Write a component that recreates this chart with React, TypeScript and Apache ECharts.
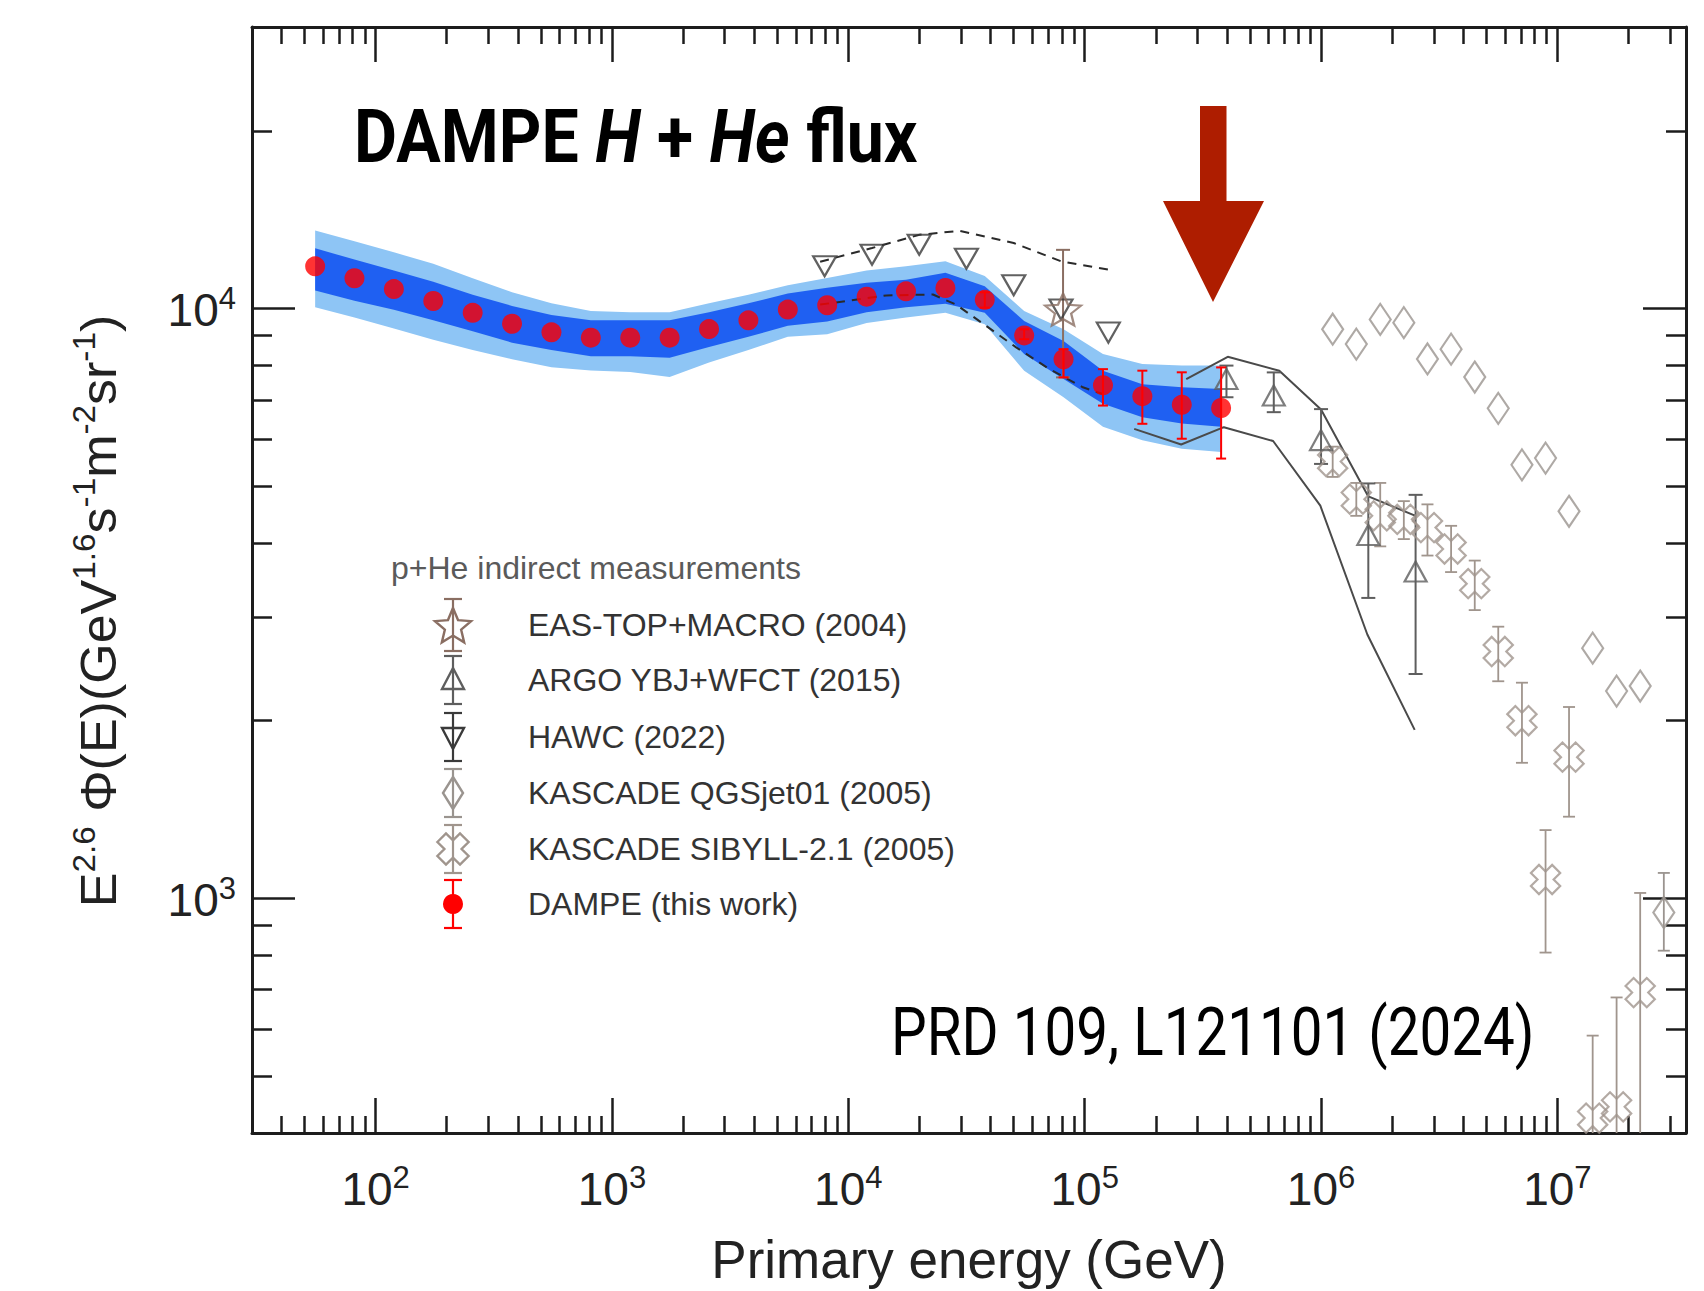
import React, { useEffect, useRef } from 'react';
import * as echarts from 'echarts';

// ---------- axes ----------
const X_MIN = 30;
const X_MAX = 3.5e7;
const Y_MIN = 400;
const Y_MAX = 30000;

const X_MAJOR_TICKS = [1e2, 1e3, 1e4, 1e5, 1e6, 1e7];
const X_MINOR_TICKS = [
  40, 50, 60, 70, 80, 90,
  200, 300, 400, 500, 600, 700, 800, 900,
  2000, 3000, 4000, 5000, 6000, 7000, 8000, 9000,
  20000, 30000, 40000, 50000, 60000, 70000, 80000, 90000,
  200000, 300000, 400000, 500000, 600000, 700000, 800000, 900000,
  2000000, 3000000, 4000000, 5000000, 6000000, 7000000, 8000000, 9000000,
  20000000, 30000000,
];
const Y_MAJOR_TICKS = [1e3, 1e4];
const Y_MINOR_TICKS = [
  500, 600, 700, 800, 900,
  2000, 3000, 4000, 5000, 6000, 7000, 8000, 9000,
  20000,
];

// ---------- DAMPE (this work) ----------
const DAMPE_E = [
  55.5, 81.4, 119.5, 175.4, 257.5, 377.8, 554.6, 814, 1195, 1754, 2575, 3778,
  5546, 8140, 11950, 17540, 25750, 37780, 55460, 81400, 119500, 175400, 257500, 377800,
];
const DAMPE_F = [
  11785, 11250, 10785, 10295, 9830, 9420, 9110, 8920, 8920, 8920, 9225, 9545,
  9955, 10125, 10470, 10690, 10830, 10340, 9000, 8200, 7410, 7100, 6865, 6780,
];
const DAMPE_ERR_E = [37780, 55460, 81400, 119500, 175400, 257500, 377800];
const DAMPE_ERR_LO = [10030, 8866, 7640, 6844, 6374, 6013, 5565];
const DAMPE_ERR_HI = [10650, 9218, 8530, 7890, 7843, 7793, 7943];

// DAMPE uncertainty band (outer = light, inner = dark)
const BAND_LIGHT_HI = [
  13550, 13000, 12450, 11900, 11250, 10650, 10200, 9900, 9850, 9850, 10200, 10550,
  10950, 11265, 11600, 11790, 12020, 11350, 9900, 9220, 8370, 8050, 8000, 8000,
];
const BAND_DARK_HI = [
  12650, 12100, 11600, 11100, 10550, 10100, 9750, 9550, 9550, 9550, 9850, 10200,
  10600, 10840, 11050, 11190, 11490, 10900, 9520, 8810, 7840, 7440, 7350, 7300,
];
const BAND_DARK_LO = [
  10720, 10300, 9950, 9550, 9150, 8750, 8500, 8300, 8300, 8250, 8600, 8950,
  9350, 9500, 9850, 10050, 10180, 9830, 8370, 7590, 6890, 6540, 6380, 6300,
];
const BAND_LIGHT_LO = [
  10050, 9650, 9250, 8850, 8500, 8200, 7950, 7850, 7800, 7650, 8100, 8500,
  8950, 9040, 9450, 9650, 9830, 9400, 7840, 7070, 6300, 5980, 5785, 5710,
];

// ---------- HAWC (2022) ----------
const HAWC_E = [7940, 12600, 19950, 31600, 50100, 79400, 125900];
const HAWC_F = [11790, 12330, 12820, 12140, 10950, 9960, 9100];
const HAWC_UP_E = [7600, 12600, 20000, 29500, 50100, 79400, 125900];
const HAWC_UP_F = [12000, 12660, 13330, 13540, 12910, 12020, 11640];
const HAWC_LO_E = [7600, 14500, 22800, 28600, 38300, 51300, 71000, 98200, 119300];
const HAWC_LO_F = [10150, 10520, 10560, 10150, 9340, 8590, 7890, 7350, 7160];

// ---------- EAS-TOP+MACRO (2004) ----------
const EAS_E = [81000];
const EAS_F = [9960];
const EAS_LO = [7640];
const EAS_HI = [12570];

// ---------- ARGO YBJ+WFCT (2015) ----------
const ARGO_E = [398000, 631000, 1000000, 1585000, 2512000];
const ARGO_F = [7590, 7120, 5980, 4130, 3580];
const ARGO_LO = [7070, 6670, 5450, 3230, 2400];
const ARGO_HI = [8000, 7790, 6750, 5050, 4830];
const ARGO_UP_E = [269000, 403000, 666000, 1000000, 1585000, 2512000];
const ARGO_UP_F = [7590, 8280, 7840, 6740, 4800, 4450];
const ARGO_DN_E = [162000, 256000, 388000, 627000, 993000, 1570000, 2490000];
const ARGO_DN_F = [6250, 5880, 6290, 5960, 4630, 2800, 1930];

// ---------- KASCADE QGSjet01 (2005) ----------
const QGS_E = [
  1.12e6, 1.41e6, 1.78e6, 2.24e6, 2.82e6, 3.55e6, 4.47e6, 5.62e6, 7.08e6, 8.91e6,
  1.12e7, 1.41e7, 1.78e7, 2.24e7, 2.82e7,
];
const QGS_F = [9220, 8700, 9580, 9460, 8210, 8530, 7650, 6770, 5430, 5575, 4530, 2655, 2245, 2290, 946];
const QGS_ERR_E = [2.82e7];
const QGS_ERR_LO = [815];
const QGS_ERR_HI = [1104];

// ---------- KASCADE SIBYLL-2.1 (2005) ----------
const SIB_E = [
  1.12e6, 1.41e6, 1.78e6, 2.24e6, 2.82e6, 3.55e6, 4.47e6, 5.62e6, 7.08e6, 8.91e6,
  1.12e7, 1.41e7, 1.78e7, 2.24e7,
];
const SIB_F = [5500, 4750, 4450, 4390, 4250, 3910, 3415, 2620, 2000, 1076, 1735, 424, 443, 692];
const SIB_LO = [5180, 4450, 3950, 4064, 3811, 3573, 3080, 2333, 1697, 809, 1375, 300, 300, 300];
const SIB_HI = [5830, 5060, 5060, 4713, 4654, 4280, 3737, 2887, 2320, 1305, 2110, 585, 679, 1021];

// ---------- legend ----------
const LEGEND_TITLE = 'p+He indirect measurements';
const LEGEND_LABELS = [
  'EAS-TOP+MACRO (2004)',
  'ARGO YBJ+WFCT (2015)',
  'HAWC (2022)',
  'KASCADE QGSjet01 (2005)',
  'KASCADE SIBYLL-2.1 (2005)',
  'DAMPE (this work)',
];

// ---------- styling ----------
const FONT = "'Liberation Sans', Arial, Helvetica, sans-serif";
const COND = "Roboto, 'Noto Sans', sans-serif";
const FRAME = '#1c1c1c';
const LIGHT_BLUE = '#8EC5F5';
const DARK_BLUE = '#1F60F2';
const RED = '#FF0000';
const STAR_COLOR = '#8a6e62';
const ARGO_COLOR = '#5e5e5e';
const HAWC_COLOR = '#3a3a3a';
const QGS_COLOR = '#9a948f';
const SIB_COLOR = '#a0958d';

const STAR_PATH =
  'path://M0,-1L0.2645,-0.364L0.951,-0.309L0.428,0.139L0.588,0.809L0,0.45L-0.588,0.809L-0.428,0.139L-0.951,-0.309L-0.2645,-0.364Z';
const CROSS_PATH =
  'path://M-0.38,-1L0.38,-1L0.38,-0.38L1,-0.38L1,0.38L0.38,0.38L0.38,1L-0.38,1L-0.38,0.38L-1,0.38L-1,-0.38L-0.38,-0.38Z';
const STAR_UNIT = [
  [0, -1], [0.2645, -0.364], [0.951, -0.309], [0.428, 0.139], [0.588, 0.809],
  [0, 0.45], [-0.588, 0.809], [-0.428, 0.139], [-0.951, -0.309], [-0.2645, -0.364],
];
const CROSS_UNIT = [
  [-0.38, -1], [0.38, -1], [0.38, -0.38], [1, -0.38], [1, 0.38], [0.38, 0.38],
  [0.38, 1], [-0.38, 1], [-0.38, 0.38], [-1, 0.38], [-1, -0.38], [-0.38, -0.38],
];

const tickLabelFormatter = (v: number) => `{b|10}{s|${Math.round(Math.log10(v))}}`;
const tickRich = {
  b: { fontSize: 46, fontFamily: FONT, color: '#222', lineHeight: 50, verticalAlign: 'bottom' },
  s: { fontSize: 31, fontFamily: FONT, color: '#222', lineHeight: 26, verticalAlign: 'top' },
};

function makeAxis(kind: 'x' | 'y', position: string, ticks: number[], len: number, major: boolean, labels: boolean) {
  const isX = kind === 'x';
  const ax: any = {
    type: 'log',
    logBase: 10,
    min: isX ? X_MIN : Y_MIN,
    max: isX ? X_MAX : Y_MAX,
    position,
    axisLine: { show: major, onZero: false, lineStyle: { color: FRAME, width: 3 } },
    axisTick: {
      show: true,
      inside: true,
      length: len,
      customValues: ticks,
      lineStyle: { color: FRAME, width: 2.5 },
    },
    axisLabel: labels
      ? {
          show: true,
          customValues: ticks,
          formatter: tickLabelFormatter,
          margin: isX ? 29 : 16,
          rich: tickRich,
        }
      : { show: false },
    splitLine: { show: false },
    minorTick: { show: false },
    minorSplitLine: { show: false },
  };
  if (isX && labels) {
    ax.name = 'Primary energy (GeV)';
    ax.nameLocation = 'middle';
    ax.nameGap = 100;
    ax.nameTextStyle = { fontSize: 53, fontFamily: FONT, color: '#222' };
  }
  return ax;
}

function errorBars(name: string, E: number[], lo: number[], hi: number[], color: string, cap: number, width: number, z: number) {
  return {
    type: 'custom',
    name,
    xAxisIndex: 0,
    yAxisIndex: 0,
    clip: true,
    z,
    data: E.map((e, i) => [e, lo[i], hi[i]]),
    encode: { x: 0, y: [1, 2] },
    renderItem: (params: any, api: any) => {
      const x = api.value(0);
      const a = api.coord([x, api.value(1)]);
      const b = api.coord([x, api.value(2)]);
      const style = { stroke: color, lineWidth: width };
      return {
        type: 'group',
        children: [
          { type: 'line', shape: { x1: a[0], y1: a[1], x2: b[0], y2: b[1] }, style },
          { type: 'line', shape: { x1: a[0] - cap, y1: a[1], x2: a[0] + cap, y2: a[1] }, style },
          { type: 'line', shape: { x1: b[0] - cap, y1: b[1], x2: b[0] + cap, y2: b[1] }, style },
        ],
      };
    },
  };
}

function scatter(name: string, E: number[], F: number[], symbol: string, size: any, color: string, filled: boolean, z: number, rotate = 0) {
  return {
    type: 'scatter',
    name,
    xAxisIndex: 0,
    yAxisIndex: 0,
    z,
    symbol,
    symbolSize: size,
    symbolRotate: rotate,
    data: E.map((e, i) => [e, F[i]]),
    itemStyle: filled
      ? { color, borderWidth: 0 }
      : { color: 'rgba(255,255,255,0)', borderColor: color, borderWidth: 2.2 },
  };
}

function lineSeries(name: string, E: number[], F: number[], color: string, dashed: boolean, z: number) {
  return {
    type: 'line',
    name,
    xAxisIndex: 0,
    yAxisIndex: 0,
    z,
    symbol: 'none',
    data: E.map((e, i) => [e, F[i]]),
    lineStyle: { color, width: 2, type: dashed ? [9, 7] : 'solid' },
  };
}

function legendEntry(i: number, y: number) {
  const cx = 453;
  const children: any[] = [];
  const colors = [STAR_COLOR, ARGO_COLOR, HAWC_COLOR, QGS_COLOR, SIB_COLOR, RED];
  const c = colors[i];
  const barStyle = { stroke: c, lineWidth: 2.2 };
  const half = i === 0 ? 26 : 24;
  children.push({ type: 'line', shape: { x1: 0, y1: -half, x2: 0, y2: half }, style: barStyle });
  children.push({ type: 'line', shape: { x1: -9, y1: -half, x2: 9, y2: -half }, style: barStyle });
  children.push({ type: 'line', shape: { x1: -9, y1: half, x2: 9, y2: half }, style: barStyle });
  const open = { fill: 'rgba(255,255,255,0)', stroke: c, lineWidth: 2.4 };
  if (i === 0) {
    children.push({ type: 'polygon', shape: { points: STAR_UNIT.map(p => [p[0] * 19, p[1] * 19 + 2]) }, style: open });
  } else if (i === 1) {
    children.push({ type: 'polygon', shape: { points: [[0, -12], [11, 9], [-11, 9]] }, style: open });
  } else if (i === 2) {
    children.push({ type: 'polygon', shape: { points: [[-11, -9], [11, -9], [0, 12]] }, style: open });
  } else if (i === 3) {
    children.push({ type: 'polygon', shape: { points: [[0, -16], [10, 0], [0, 16], [-10, 0]] }, style: open });
  } else if (i === 4) {
    children.push({
      type: 'polygon',
      rotation: Math.PI / 4,
      shape: { points: CROSS_UNIT.map(p => [p[0] * 16, p[1] * 16]) },
      style: open,
    });
  } else {
    children.push({ type: 'circle', shape: { cx: 0, cy: 0, r: 10 }, style: { fill: RED } });
  }
  return [
    { type: 'group', x: cx, y, children, z: 100 },
    {
      type: 'text',
      x: 528,
      y,
      z: 100,
      style: { text: LEGEND_LABELS[i], fontFamily: FONT, fontSize: 32, fill: '#333', verticalAlign: 'middle', align: 'left' },
    },
  ];
}

function buildOption() {
  const legendYs = [625, 680, 737, 793, 849, 904];
  const legendEls: any[] = [];
  legendYs.forEach((y, i) => legendEls.push(...legendEntry(i, y)));

  return {
    animation: false,
    backgroundColor: '#ffffff',
    grid: { left: 252, right: 18, top: 27, bottom: 151, containLabel: false },
    xAxis: [
      makeAxis('x', 'bottom', X_MAJOR_TICKS, 35, true, true),
      makeAxis('x', 'bottom', X_MINOR_TICKS, 17, false, false),
      makeAxis('x', 'top', X_MAJOR_TICKS, 35, true, false),
      makeAxis('x', 'top', X_MINOR_TICKS, 17, false, false),
    ],
    yAxis: [
      makeAxis('y', 'left', Y_MAJOR_TICKS, 43, true, true),
      makeAxis('y', 'left', Y_MINOR_TICKS, 20, false, false),
      makeAxis('y', 'right', Y_MAJOR_TICKS, 43, true, false),
      makeAxis('y', 'right', Y_MINOR_TICKS, 20, false, false),
    ],
    series: [
      {
        type: 'custom',
        name: 'DAMPE band',
        xAxisIndex: 0,
        yAxisIndex: 0,
        z: 1,
        clip: true,
        data: [[DAMPE_E[0], DAMPE_F[0]]],
        renderItem: (params: any, api: any) => {
          const pts = (arr: number[]) => DAMPE_E.map((e, i) => api.coord([e, arr[i]]));
          const lh = pts(BAND_LIGHT_HI);
          const ll = pts(BAND_LIGHT_LO);
          const dh = pts(BAND_DARK_HI);
          const dl = pts(BAND_DARK_LO);
          return {
            type: 'group',
            children: [
              { type: 'polygon', shape: { points: lh.concat(ll.slice().reverse()) }, style: { fill: LIGHT_BLUE } },
              { type: 'polygon', shape: { points: dh.concat(dl.slice().reverse()) }, style: { fill: DARK_BLUE } },
            ],
          };
        },
      },
      lineSeries('HAWC sys up', HAWC_UP_E, HAWC_UP_F, '#2a2a2a', true, 3),
      lineSeries('HAWC sys low', HAWC_LO_E, HAWC_LO_F, '#2a2a2a', true, 3),
      lineSeries('ARGO sys up', ARGO_UP_E, ARGO_UP_F, '#4a4a4a', false, 3),
      lineSeries('ARGO sys low', ARGO_DN_E, ARGO_DN_F, '#4a4a4a', false, 3),
      errorBars('KASCADE SIBYLL err', SIB_E, SIB_LO, SIB_HI, SIB_COLOR, 6, 1.8, 4),
      errorBars('KASCADE QGSjet err', QGS_ERR_E, QGS_ERR_LO, QGS_ERR_HI, QGS_COLOR, 6, 1.8, 4),
      errorBars('ARGO err', ARGO_E, ARGO_LO, ARGO_HI, ARGO_COLOR, 7, 2, 4),
      errorBars('EAS-TOP err', EAS_E, EAS_LO, EAS_HI, STAR_COLOR, 7, 2, 4),
      scatter('KASCADE QGSjet01 (2005)', QGS_E, QGS_F, 'diamond', [21, 31], QGS_COLOR, false, 5),
      scatter('KASCADE SIBYLL-2.1 (2005)', SIB_E, SIB_F, CROSS_PATH, 30, SIB_COLOR, false, 5, 45),
      scatter('ARGO YBJ+WFCT (2015)', ARGO_E, ARGO_F, 'triangle', [22, 20], ARGO_COLOR, false, 6),
      scatter('HAWC (2022)', HAWC_E, HAWC_F, 'triangle', [23, 20], HAWC_COLOR, false, 6, 180),
      scatter('EAS-TOP+MACRO (2004)', EAS_E, EAS_F, STAR_PATH, [36, 32], STAR_COLOR, false, 6),
      errorBars('DAMPE err', DAMPE_ERR_E, DAMPE_ERR_LO, DAMPE_ERR_HI, RED, 5, 2, 7),
      scatter('DAMPE (this work)', DAMPE_E, DAMPE_F, 'circle', 20, RED, true, 8),
    ],
    graphic: [
      {
        type: 'text',
        x: 354,
        y: 137,
        scaleX: 0.895,
        z: 100,
        style: {
          text: '{a|DAMPE }{b|H}{a| + }{b|He}{a| flux}',
          align: 'left',
          verticalAlign: 'middle',
          rich: {
            a: { fontFamily: COND, fontWeight: 'bold', fontSize: 74, fill: '#000' },
            b: { fontFamily: COND, fontWeight: 'bold', fontStyle: 'italic', fontSize: 74, fill: '#000' },
          },
        },
      },
      {
        type: 'text',
        x: 891,
        y: 1032,
        scaleX: 0.857,
        z: 100,
        style: {
          text: 'PRD 109, L121101 (2024)',
          fontFamily: COND,
          fontSize: 66,
          fill: '#000',
          align: 'left',
          verticalAlign: 'middle',
        },
      },
      {
        type: 'text',
        x: 96,
        y: 611,
        rotation: Math.PI / 2,
        scaleX: 1.04,
        z: 100,
        style: {
          text: '{n|E}{s|2.6}{n| Φ(E)(GeV}{s|1.6}{n|s}{s|-1}{n|m}{s|-2}{n|sr}{s|-1}{n|)}',
          align: 'center',
          verticalAlign: 'middle',
          rich: {
            n: { fontFamily: FONT, fontSize: 50, fill: '#222', lineHeight: 56, verticalAlign: 'bottom' },
            s: { fontFamily: FONT, fontSize: 32, fill: '#222', lineHeight: 30, verticalAlign: 'top' },
          },
        },
      },
      {
        type: 'polygon',
        z: 100,
        shape: {
          points: [[1200, 106], [1226.5, 106], [1226.5, 201], [1264, 201], [1213, 302], [1163, 201], [1200, 201]],
        },
        style: { fill: '#AE1D00' },
      },
      {
        type: 'text',
        x: 391,
        y: 568,
        z: 100,
        style: { text: LEGEND_TITLE, fontFamily: FONT, fontSize: 32, fill: '#5a5a5a', verticalAlign: 'middle', align: 'left' },
      },
      ...legendEls,
    ],
  };
}

export default function App() {
  const ref = useRef<HTMLDivElement>(null);
  useEffect(() => {
    if (!ref.current) return;
    const chart = echarts.init(ref.current, null, { renderer: 'svg' });
    chart.setOption(buildOption() as any);
    return () => chart.dispose();
  }, []);
  return (
    <div
      ref={ref}
      style={{ position: 'fixed', left: 0, top: 0, width: 1704, height: 1291, background: '#fff' }}
    />
  );
}
